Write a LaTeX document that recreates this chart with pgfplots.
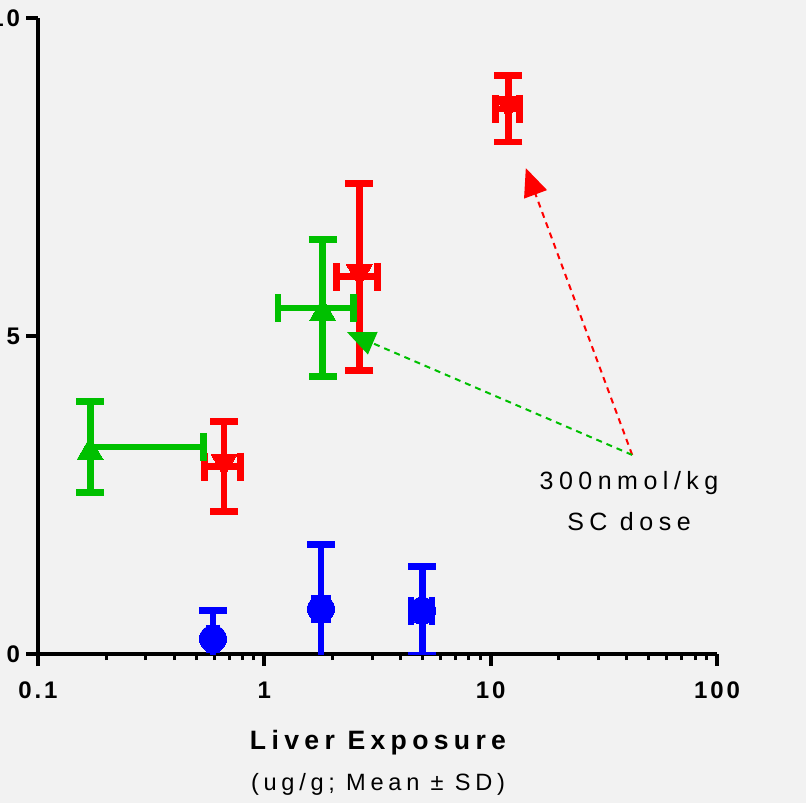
\documentclass[border=0pt]{standalone}
\usepackage{pgfplots}
\pgfplotsset{compat=1.18}
\usepackage{fontspec}
\setmainfont{Liberation Sans}
\newfontfamily\tickfont{Liberation Sans}[LetterSpace=12]
\newfontfamily\labelfont{Liberation Sans}[LetterSpace=20]
\newfontfamily\notefont{Liberation Sans}[LetterSpace=22]
\usetikzlibrary{arrows.meta}
\definecolor{bg}{HTML}{F2F2F2}
\definecolor{pgreen}{RGB}{0,192,0}

\pgfplotsset{
  ebar/.style={only marks,
    mark options={solid, draw=#1, fill=#1, line width=0pt},
    error bars/x dir=both, error bars/x explicit,
    error bars/y dir=both, error bars/y explicit,
    error bars/error bar style={line width=3.4pt, #1},
    error bars/error mark options={rotate=90, line width=3.4pt, mark size=7pt, #1}},
}

\begin{document}
\begin{tikzpicture}
\fill[bg] (-19pt,-74.5pt) rectangle (384pt,327pt);
\begin{axis}[
  at={(0,0)}, anchor=south west,
  scale only axis, width=339.5pt, height=318pt,
  xmode=log, xmin=0.1, xmax=100,
  ymin=0, ymax=10,
  axis x line=bottom, axis y line=left,
  axis line style={-, line width=2pt},
  xtick={0.1,1,10,100}, xticklabels={0.1,1,10,100},
  ytick={0,5,10}, yticklabels={0,5,10}, minor y tick num=0,
  tick align=outside,
  major tick length=6pt, minor tick length=3pt,
  every major tick/.append style={black, line width=2pt},
  every minor tick/.append style={black, line width=1.5pt},
  ticklabel style={font=\tickfont\bfseries\fontsize{12}{14}\selectfont},
  xticklabel style={yshift=-4.5pt},
  yticklabel style={xshift=0.5pt},
  clip=true,
]
% blue circles
\addplot[ebar=blue, mark=*, mark size=6.8pt] coordinates {
  (0.593,0.24) +- (0.02,0.45)
  (1.78,0.71)  +- (0.12,1.01)
  (4.98,0.68)  +- (0.53,0.70)
};
% red down triangles
\addplot[ebar=red, mark=triangle*, mark size=7.5pt,
  every mark/.append style={rotate=180, yshift=-2.5pt}] coordinates {
  (0.664,2.945) +- (0.12,0.71)
  (2.63,5.93)   +- (0.54,1.47)
  (11.97,8.57)  +- (1.45,0.52)
};
% green up triangles
\addplot[ebar=pgreen, mark=triangle*, mark size=7.5pt,
  every mark/.append style={yshift=-2.5pt},
  error bars/x dir=plus] coordinates {
  (0.17,3.255) +- (0.368,0.72)
};
\addplot[ebar=pgreen, mark=triangle*, mark size=7.5pt,
  every mark/.append style={yshift=-2.5pt}] coordinates {
  (1.81,5.44) +- (0.66,1.08)
};
% annotation arrows
\draw[red, line width=1pt, dash pattern=on 3pt off 2.5pt,
  -{Triangle[length=14pt,width=12pt]}] (axis cs:42.2,3.13) -- (axis cs:14.3,7.64);
\draw[pgreen, line width=1pt, dash pattern=on 3pt off 2.5pt,
  -{Triangle[length=14pt,width=12pt]}] (axis cs:42.2,3.13) -- (axis cs:2.32,5.06);
\end{axis}
\node[anchor=base, font=\notefont\fontsize{12.5}{15}\selectfont] at (295.5pt,82.5pt) {300nmol/kg};
\node[anchor=base, font=\notefont\fontsize{12.5}{15}\selectfont] at (295.5pt,61.8pt) {SC dose};
\node[anchor=base, font=\labelfont\bfseries\fontsize{13.3}{16}\selectfont] at (170pt,-47.5pt) {Liver Exposure};
\node[anchor=base, font=\labelfont\fontsize{11.8}{14}\selectfont] at (170pt,-68pt) {(ug/g; Mean ± SD)};
\pgfresetboundingbox
\useasboundingbox (-19pt,-74.5pt) rectangle (384pt,327pt);
\end{tikzpicture}
\end{document}
